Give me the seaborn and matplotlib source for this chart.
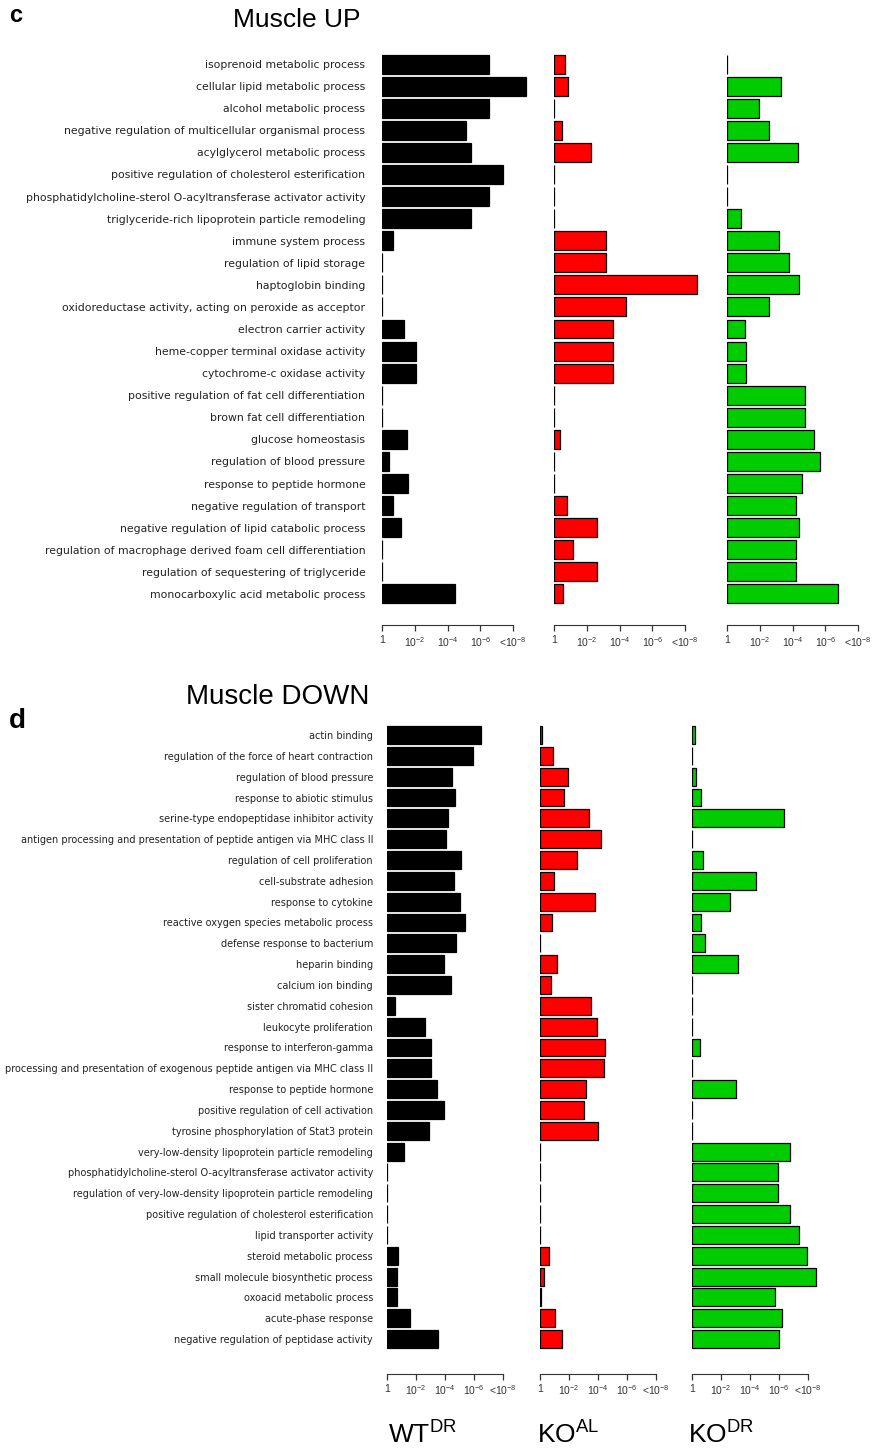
import numpy as np
import matplotlib
matplotlib.use('Agg')
import matplotlib.pyplot as plt
import pandas as pd
import seaborn as sns

# ---- data: -log10(p) per term, panel c (Muscle UP) ----
up_terms = ["isoprenoid metabolic process", "cellular lipid metabolic process",
            "alcohol metabolic process",
            "negative regulation of multicellular organismal process",
            "acylglycerol metabolic process",
            "positive regulation of cholesterol esterification",
            "phosphatidylcholine-sterol O-acyltransferase activator activity",
            "triglyceride-rich lipoprotein particle remodeling",
            "immune system process", "regulation of lipid storage",
            "haptoglobin binding",
            "oxidoreductase activity, acting on peroxide as acceptor",
            "electron carrier activity", "heme-copper terminal oxidase activity",
            "cytochrome-c oxidase activity",
            "positive regulation of fat cell differentiation",
            "brown fat cell differentiation", "glucose homeostasis",
            "regulation of blood pressure", "response to peptide hormone",
            "negative regulation of transport",
            "negative regulation of lipid catabolic process",
            "regulation of macrophage derived foam cell differentiation",
            "regulation of sequestering of triglyceride",
            "monocarboxylic acid metabolic process"]
up_wt = [6.5, 8.8, 6.5, 5.1, 5.4, 7.4, 6.5, 5.4, 0.7, 0.03, 0.03, 0.03, 1.35,
         2.1, 2.1, 0.03, 0.03, 1.5, 0.4, 1.6, 0.7, 1.15, 0.03, 0.03, 4.45]
up_koal = [0.7, 0.85, 0.03, 0.5, 2.25, 0.03, 0.03, 0.03, 3.15, 3.2, 8.7, 4.4,
           3.6, 3.6, 3.6, 0.03, 0.03, 0.35, 0.03, 0.03, 0.8, 2.65, 1.15, 2.65, 0.55]
up_kodr = [0.03, 3.3, 1.95, 2.55, 4.3, 0.03, 0.03, 0.85, 3.2, 3.8, 4.4, 2.55,
           1.1, 1.15, 1.15, 4.75, 4.75, 5.3, 5.65, 4.55, 4.2, 4.4, 4.2, 4.2, 6.75]

# ---- panel d (Muscle DOWN) ----
down_terms = ["actin binding", "regulation of the force of heart contraction",
              "regulation of blood pressure", "response to abiotic stimulus",
              "serine-type endopeptidase inhibitor activity",
              "antigen processing and presentation of peptide antigen via MHC class II",
              "regulation of cell proliferation", "cell-substrate adhesion",
              "response to cytokine", "reactive oxygen species metabolic process",
              "defense response to bacterium", "heparin binding",
              "calcium ion binding", "sister chromatid cohesion",
              "leukocyte proliferation", "response to interferon-gamma",
              "processing and presentation of exogenous peptide antigen via MHC class II",
              "response to peptide hormone", "positive regulation of cell activation",
              "tyrosine phosphorylation of Stat3 protein",
              "very-low-density lipoprotein particle remodeling",
              "phosphatidylcholine-sterol O-acyltransferase activator activity",
              "regulation of very-low-density lipoprotein particle remodeling",
              "positive regulation of cholesterol esterification",
              "lipid transporter activity", "steroid metabolic process",
              "small molecule biosynthetic process", "oxoacid metabolic process",
              "acute-phase response", "negative regulation of peptidase activity"]
down_wt = [6.5, 5.9, 4.5, 4.7, 4.2, 4.1, 5.1, 4.6, 5.0, 5.4, 4.75, 3.9, 4.4,
           0.55, 2.6, 3.0, 3.0, 3.45, 3.9, 2.9, 1.2, 0.03, 0.03, 0.03, 0.03,
           0.75, 0.7, 0.7, 1.6, 3.5]
down_koal = [0.15, 0.9, 1.9, 1.65, 3.4, 4.2, 2.55, 0.95, 3.8, 0.85, 0.03, 1.2,
             0.75, 3.55, 3.95, 4.45, 4.4, 3.2, 3.05, 4.0, 0, 0, 0, 0, 0,
             0.6, 0.3, 0.1, 1.05, 1.5]
down_kodr = [0.2, 0.03, 0.3, 0.6, 6.35, 0.03, 0.75, 4.4, 2.6, 0.6, 0.9, 3.2,
             0.03, 0.03, 0.03, 0.55, 0.03, 3.0, 0.03, 0, 6.75, 5.95, 5.95, 6.75,
             7.4, 7.95, 8.55, 5.7, 6.2, 6.0]

groups = ["WT", "KO_AL", "KO_DR"]
colors = ["#000000", "#ff0000", "#00cc00"]
tick_pos = [0, 2, 4, 6, 8]
tick_txt = ["1", r"$10^{-2}$", r"$10^{-4}$", r"$10^{-6}$", r"<$10^{-8}$"]

sns.set_style("white")
plt.rcParams['font.family'] = ['Liberation Sans', 'DejaVu Sans']
plt.rcParams['mathtext.fontset'] = 'custom'
plt.rcParams['mathtext.rm'] = 'Liberation Sans'
plt.rcParams['mathtext.it'] = 'Liberation Sans'

W, H = 876, 1449
fig = plt.figure(figsize=(W / 100, H / 100), dpi=100)


def px_axes(x0, top, w, h):
    return fig.add_axes([x0 / W, 1 - (top + h) / H, w / W, h / H])


def panel(terms, series, xs, unit, top, step, label_fs, label_pad, offset):
    n = len(terms)
    for i, (vals, col, x0) in enumerate(zip(series, colors, xs)):
        ax = px_axes(x0, top, 9 * unit, n * step)
        df = pd.DataFrame({"term": terms, "val": vals})
        sns.barplot(data=df, x="val", y="term", orient="h", color=col,
                    saturation=1, width=0.86, edgecolor="black",
                    linewidth=0.9, ax=ax)
        ax.set_xlim(0, 9)
        ax.set_ylim(n - 0.5, -0.5)
        ax.set_xlabel("")
        ax.set_ylabel("")
        for s in ["top", "right", "left"]:
            ax.spines[s].set_visible(False)
        ax.spines["bottom"].set_position(("outward", offset))
        ax.spines["bottom"].set_bounds(0, 8)
        ax.spines["bottom"].set_color("#333333")
        ax.set_xticks(tick_pos)
        ax.set_xticklabels(tick_txt, fontsize=7.5, color="#333333")
        ax.tick_params(axis="x", direction="out", length=4, width=0.9,
                       color="#333333", bottom=True, pad=3)
        ax.tick_params(axis="y", length=0, pad=label_pad)
        if i == 0:
            ax.set_yticklabels(terms, fontsize=label_fs, color="#222222",
                               family="DejaVu Sans")
        else:
            ax.set_yticklabels([])


# panel c
panel(up_terms, [up_wt, up_koal, up_kodr], [382, 554, 727], 16.4,
      53.0, 22.08, 7.85, 12, 14.5)
# panel d
panel(down_terms, [down_wt, down_koal, down_kodr], [387, 540, 692], 14.5,
      724.6, 20.83, 7.0, 10, 17.5)

fig.text(9 / W, 1 - 16 / H, "c", fontsize=17, fontweight="bold", va="center",
         color="black")
fig.text(233 / W, 1 - 20 / H, "Muscle UP", fontsize=19, va="center",
         color="black")
fig.text(9 / W, 1 - 721 / H, "d", fontsize=20, fontweight="bold", va="center",
         color="black")
fig.text(186 / W, 1 - 697 / H, "Muscle DOWN", fontsize=20, va="center",
         color="black")

fig.text(388 / W, 1 - 1435 / H, r"WT$^{\mathrm{DR}}$", fontsize=19,
         va="center", color="black")
fig.text(537 / W, 1 - 1435 / H, r"KO$^{\mathrm{AL}}$", fontsize=19,
         va="center", color="black")
fig.text(688 / W, 1 - 1435 / H, r"KO$^{\mathrm{DR}}$", fontsize=19,
         va="center", color="black")

fig.savefig("out.png", dpi=100, facecolor="white")
